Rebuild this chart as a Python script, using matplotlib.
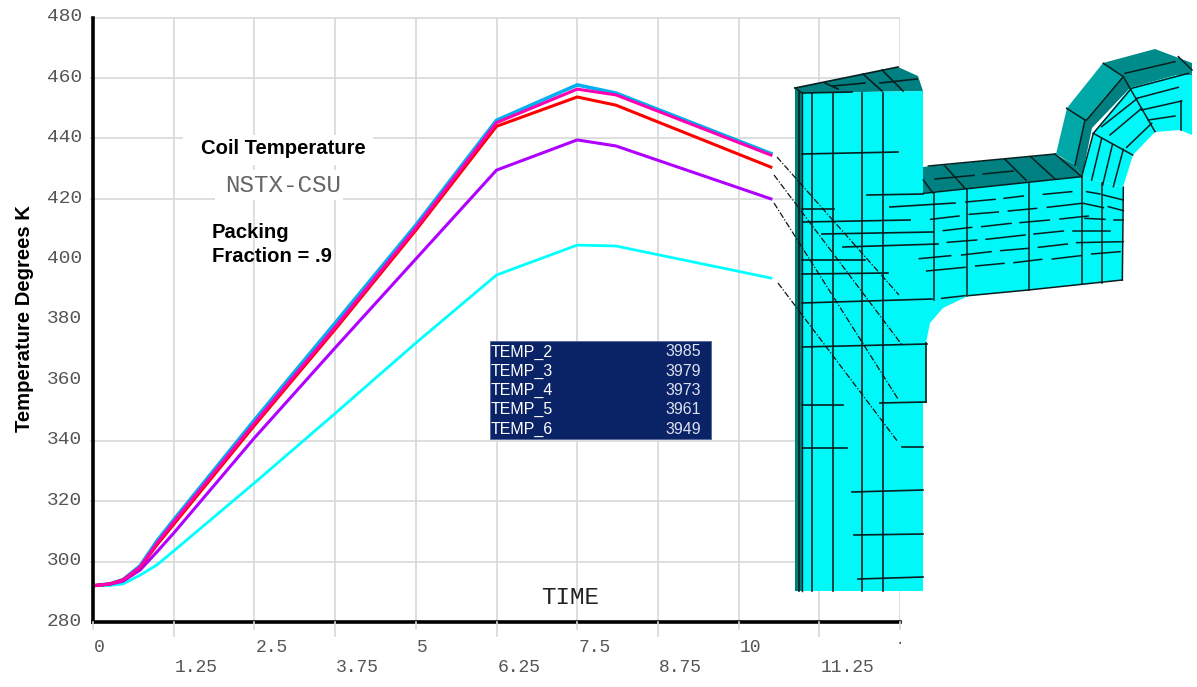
import matplotlib
matplotlib.use("Agg")
import matplotlib.pyplot as plt
from matplotlib.patches import Polygon, Rectangle
from matplotlib.transforms import ScaledTranslation

# curves
time = [0, 0.26, 0.465, 0.73, 0.99, 1.25, 2.5, 3.75, 5, 6.25, 7.5, 8.1, 10.5]
temp_2 = [292, 292.6, 294.0, 298.6, 306.8, 313.8, 346.8, 378.9, 411.3, 446.0, 457.7, 455.0, 435.0]
temp_3 = [292, 292.6, 293.9, 298.2, 306.1, 313.1, 345.8, 377.6, 410.4, 445.2, 456.3, 454.4, 434.5]
temp_4 = [292, 292.6, 293.9, 298.0, 305.5, 312.3, 345.0, 376.8, 409.6, 444.0, 453.7, 451.0, 430.5]
temp_5 = [292, 292.5, 293.5, 297.2, 303.2, 309.4, 340.9, 370.7, 400.1, 429.5, 439.5, 437.5, 420.0]
temp_6 = [292, 292.1, 292.6, 295.5, 298.9, 303.5, 326.0, 349.0, 372.3, 394.8, 404.7, 404.4, 393.8]

x_ticks = [0, 1.25, 2.5, 3.75, 5, 6.25, 7.5, 8.75, 10, 11.25, 12.5]
x_labels = ["0", "1.25", "2.5", "3.75", "5", "6.25", "7.5", "8.75", "10", "11.25", ""]
y_ticks = [280, 300, 320, 340, 360, 380, 400, 420, 440, 460, 480]
y_grid = [300, 320, 340, 420, 440, 460, 480]

legend_names = ["TEMP_2", "TEMP_3", "TEMP_4", "TEMP_5", "TEMP_6"]
legend_values = ["3985", "3979", "3973", "3961", "3949"]

# the coil model pasted over the plot, in image pixels
column_front = [(802, 93), (923, 91), (923, 167), (923, 193), (926, 343), (926, 402), (923, 403), (923, 591), (802, 591)]
column_side = [(795, 88), (802, 93), (802, 591), (795, 591)]
column_cap = [(795, 88), (898, 67), (918, 76), (923, 91), (802, 93)]
arm_cap = [(923, 167), (1055, 154), (1075, 165), (1082, 177), (923, 193)]
arm_front = [(923, 193), (1082, 177), (1123, 187), (1122, 280), (1028, 290), (968, 296), (943, 308),
             (930, 323), (926, 343), (923, 343)]
elbow_front = [(1082, 177), (1093, 133), (1130, 88), (1177, 75), (1192, 75), (1192, 135), (1180, 130),
               (1155, 132), (1133, 155), (1123, 187)]
elbow_side = [(1056, 154), (1067, 108), (1103, 63), (1123, 77), (1085, 120), (1075, 165)]
elbow_strip = [(1075, 165), (1085, 120), (1123, 77), (1130, 88), (1092, 128), (1082, 177)]
elbow_top = [(1103, 63), (1155, 49), (1192, 63), (1192, 75), (1177, 75), (1130, 88), (1123, 77)]

column_verticals = [799, 812, 833, 862, 883]
column_lines = [
    (802, 154, 898, 152), (867, 195, 923, 194), (802, 209, 834, 209), (890, 207, 955, 203),
    (803, 222, 910, 220), (822, 234, 933, 232), (843, 247, 938, 244), (802, 260, 865, 260),
    (802, 274, 888, 273), (802, 303, 932, 299), (802, 347, 927, 344), (802, 405, 843, 405),
    (880, 403, 926, 402), (802, 448, 847, 448), (902, 447, 923, 447), (852, 492, 923, 490),
    (854, 535, 923, 534), (858, 579, 923, 577), (926, 343, 926, 402), (795, 88, 802, 93),
    (825, 83, 838, 89), (863, 74, 882, 91), (882, 70, 903, 91), (833, 86, 865, 83),
    (880, 83, 917, 79), (803, 93, 852, 92), (795, 88, 898, 67),
]
leader_lines = [(777, 157, 899, 295), (774, 175, 902, 345), (774, 203, 898, 399), (778, 283, 898, 442)]

# crop coordinates from the 3x zoom at (910, 30)
arm_lines = [
    (72, 488, 72, 810), (172, 478, 172, 797), (356, 460, 356, 780), (517, 440, 517, 762), (577, 460, 577, 758),
    (62, 568, 147, 558), (100, 602, 185, 592), (112, 637, 200, 630), (28, 686, 122, 677), (50, 723, 165, 712),
    (168, 516, 255, 508), (178, 553, 265, 546), (215, 590, 303, 580), (228, 628, 345, 615), (155, 675, 243, 665),
    (272, 662, 355, 655), (197, 708, 282, 700), (282, 505, 340, 498), (295, 543, 380, 535), (330, 578, 418, 570),
    (372, 612, 460, 603), (312, 698, 395, 688), (385, 652, 472, 642), (400, 493, 485, 485), (412, 532, 515, 520),
    (450, 567, 535, 558), (490, 602, 600, 602), (500, 638, 640, 635), (427, 687, 512, 677), (530, 485, 570, 492),
    (520, 520, 580, 533), (525, 565, 585, 568), (612, 570, 640, 570), (580, 495, 640, 510), (595, 530, 640, 542),
    (545, 672, 630, 665), (95, 805, 165, 797), (40, 490, 515, 440), (55, 408, 435, 372), (75, 447, 192, 436),
    (220, 432, 310, 423), (105, 408, 165, 475), (285, 388, 348, 450), (362, 380, 435, 447), (40, 450, 68, 488),
    (435, 372, 515, 440), (550, 310, 668, 375), (640, 140, 735, 305), (660, 180, 550, 310), (575, 325, 545, 450),
    (607, 345, 578, 465), (640, 358, 610, 470), (665, 175, 835, 130), (680, 205, 805, 172), (695, 240, 815, 213),
    (715, 270, 795, 258), (575, 290, 680, 207), (600, 315, 695, 235), (650, 352, 725, 280), (645, 130, 795, 95),
    (805, 80, 846, 120), (470, 235, 525, 270), (580, 100, 640, 140), (640, 140, 530, 270), (525, 270, 495, 405),
    (812, 213, 812, 300), (175, 797, 355, 780), (355, 780, 637, 750), (637, 750, 640, 472), (550, 310, 515, 440),
]

fig = plt.figure(figsize=(11.97, 6.87), dpi=100)
ax = fig.add_axes([93 / 1197, 1 - 622 / 687, (900 - 93) / 1197, (622 - 17.5) / 687])

ax.plot(time, temp_6, color="#00ffff", linewidth=2.0, zorder=3)
ax.plot(time, temp_2, color="#00b0f0", linewidth=2.6, zorder=3)
ax.plot(time, temp_5, color="#b000ff", linewidth=2.2, zorder=3)
ax.plot(time, temp_4, color="#ff0000", linewidth=2.2, zorder=3)
ax.plot(time, temp_3, color="#ff00b0", linewidth=2.2, zorder=3)

ax.set_xlim(0, 12.5)
ax.set_ylim(280, 480)
ax.set_xticks(x_ticks)
ax.set_xticklabels([])
ax.set_yticks(y_ticks)
ax.set_yticklabels(y_ticks, family="Liberation Mono", fontsize=14, color="#555555")
ax.tick_params(axis="y", length=0, pad=8)
ax.tick_params(axis="x", length=0)
ax.grid(True, axis="x", color="#d8d8d8", linewidth=1.2)
ax.set_axisbelow(True)
# 360, 380 and 400 have no grid line in the original
ax.hlines(y_grid, -0.05, 12.5, color="#d8d8d8", linewidth=1.2, zorder=1, clip_on=False)
for label in ax.get_yticklabels():
    label.set_transform(label.get_transform() + ScaledTranslation(0, 2 / 72, fig.dpi_scale_trans))
for side in ["top", "right"]:
    ax.spines[side].set_visible(False)
for side in ["left", "bottom"]:
    ax.spines[side].set_linewidth(2.6)
    ax.spines[side].set_zorder(4)

# everything below is placed in image pixels
px = fig.add_axes([0, 0, 1, 1], facecolor="none")
px.set_xlim(0, 1197)
px.set_ylim(687, 0)
px.axis("off")


def to_px(t):
    return 93 + t * (900 - 93) / 12.5


for i, (t, label) in enumerate(zip(x_ticks, x_labels)):
    x = to_px(t)
    px.plot([x, x], [622, 636 if i % 2 else 629], color="#d8d8d8", linewidth=1.2, zorder=1)
    px.text(x + 1, 668 if i % 2 else 647, label, family="Liberation Mono", fontsize=13, color="#555555",
            ha="left", va="center")
px.text(900, 640, ".", family="Liberation Mono", fontsize=10, color="#555555", ha="center", va="center")

px.text(25, 319, "Temperature Degrees K", rotation=90, family="Liberation Sans", fontweight="bold",
        fontsize=14.6, ha="center", va="center")
px.text(570, 598, "TIME", family="Liberation Mono", fontsize=17.5, color="#222222", ha="center", va="center")

px.add_patch(Rectangle((183, 135), 190, 30, facecolor="white", edgecolor="none"))
px.add_patch(Rectangle((215, 170), 128, 30, facecolor="white", edgecolor="none"))
px.text(283, 149, "Coil Temperature", family="Liberation Sans", fontweight="bold", fontsize=14.6,
        ha="center", va="center")
px.text(283, 186, "NSTX-CSU", family="Liberation Mono", fontsize=17.5, color="#666666", ha="center", va="center")
px.text(212, 233, "Packing", family="Liberation Sans", fontweight="bold", fontsize=14.6, ha="left", va="center")
px.text(212, 257, "Fraction = .9", family="Liberation Sans", fontweight="bold", fontsize=14.6,
        ha="left", va="center")

px.add_patch(Rectangle((490, 341), 221, 98, facecolor="#0a2266", edgecolor="#5a6a9a", linewidth=0.7))
for i, (name, value) in enumerate(zip(legend_names, legend_values)):
    y = 352 + i * 19.3
    px.text(491, y, name, family="Liberation Sans", fontsize=11.5, color="white", ha="left", va="center")
    px.text(701, y, value, family="Liberation Sans", fontsize=11.5, color="#dde0ee", ha="right", va="center")

teal_shapes = [(column_side, "#007f7f"), (column_cap, "#008080"), (arm_cap, "#008080"),
               (elbow_side, "#00a8a8"), (elbow_strip, "#008080"), (elbow_top, "#008b8b")]
for pts, colour in teal_shapes:
    px.add_patch(Polygon(pts, closed=True, facecolor=colour, edgecolor="none", zorder=5))
for pts in [column_front, arm_front, elbow_front]:
    px.add_patch(Polygon(pts, closed=True, facecolor="#00f8f8", edgecolor="none", zorder=5))

for x in column_verticals:
    px.plot([x, x], [93, 591], color="#062020", linewidth=1.2, zorder=6)
px.plot([802, 802], [93, 591], color="#062020", linewidth=1.0, zorder=6)
for x1, y1, x2, y2 in column_lines:
    px.plot([x1, x2], [y1, y2], color="#062020", linewidth=1.2, zorder=6)
for x1, y1, x2, y2 in arm_lines:
    px.plot([910 + x1 / 3, 910 + x2 / 3], [30 + y1 / 3, 30 + y2 / 3], color="#062020", linewidth=1.1, zorder=6)
for x1, y1, x2, y2 in leader_lines:
    px.plot([x1, x2], [y1, y2], color="#111111", linewidth=0.9, linestyle=(0, (5, 1.5, 1, 1.5)), zorder=7)

fig.savefig("out.png", dpi=100)
plt.close(fig)
